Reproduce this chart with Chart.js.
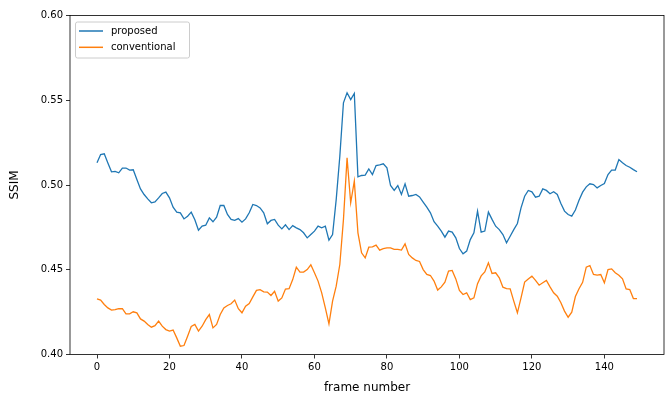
<!DOCTYPE html>
<html>
<head>
<meta charset="utf-8">
<script src="https://cdn.jsdelivr.net/npm/chart.js@4"></script>
<style>
html,body{margin:0;padding:0;background:#fff;}
#wrap{width:672px;height:398px;}
</style>
</head>
<body>
<div id="wrap"><canvas id="c" width="672" height="398"></canvas></div>
<script>
const seriesNames = ["proposed", "conventional"];
const xTickValues = [0, 20, 40, 60, 80, 100, 120, 140];
const yTickValues = [0.40, 0.45, 0.50, 0.55, 0.60];
const xLabel = "frame number";
const yLabel = "SSIM";

const proposed = [
0.5131,0.518,0.5184,0.513,0.5078,0.508,0.5072,0.510,0.510,0.5088,
0.509,0.5032,0.4977,0.4944,0.4918,0.4895,0.490,0.4924,0.495,0.4958,
0.4924,0.4869,0.484,0.4836,0.480,0.4816,0.484,0.4795,0.4733,0.4757,
0.4763,0.4806,0.4783,0.481,0.4879,0.4879,0.4826,0.4797,0.4791,0.4802,
0.4781,0.480,0.4836,0.4885,0.4879,0.4865,0.4836,0.4771,0.4791,0.4797,
0.4763,0.4741,0.4765,0.4737,0.476,0.4747,0.4737,0.4718,0.4688,0.4708,
0.4728,0.4757,0.4747,0.4757,0.4675,0.4708,0.4914,0.517,0.5485,0.5544,
0.5504,0.554,0.5048,0.5056,0.5058,0.5095,0.5062,0.5115,0.5119,0.5125,
0.5101,0.4997,0.4968,0.4997,0.4944,0.5007,0.4934,0.4938,0.4944,0.493,
0.4899,0.4869,0.4836,0.4783,0.4757,0.4728,0.4692,0.4728,0.4722,0.4688,
0.4625,0.4594,0.461,0.4678,0.4718,0.4846,0.4722,0.4728,0.484,0.4797,
0.4757,0.4737,0.4708,0.4659,0.4698,0.4737,0.4773,0.4865,0.4934,0.4968,
0.496,0.4928,0.4934,0.4977,0.4968,0.4948,0.496,0.4944,0.4891,0.4846,
0.4826,0.4816,0.4852,0.491,0.4958,0.4989,0.5007,0.5003,0.4983,0.4997,
0.5009,0.5062,0.5088,0.5088,0.515,0.5131,0.5115,0.5105,0.5091,0.5078
];

const conventional = [
0.4328,0.4321,0.4295,0.4275,0.4262,0.4265,0.4271,0.427,0.424,0.424,
0.4252,0.4246,0.421,0.4197,0.4177,0.4161,0.417,0.4197,0.4167,0.4147,
0.4138,0.4144,0.4098,0.4049,0.4053,0.4108,0.4165,0.4177,0.4138,0.4167,
0.4206,0.4236,0.4157,0.4177,0.4236,0.4275,0.4289,0.4299,0.4321,0.427,
0.4246,0.4285,0.4301,0.434,0.4378,0.4383,0.437,0.4368,0.4348,0.4373,
0.4315,0.4334,0.4386,0.4388,0.4442,0.4515,0.4486,0.4486,0.4501,0.4529,
0.4482,0.4433,0.4364,0.4275,0.4181,0.4315,0.4403,0.4531,0.4796,0.516,
0.4895,0.5023,0.4718,0.460,0.457,0.4633,0.4635,0.4645,0.4616,0.4625,
0.4629,0.4629,0.462,0.462,0.4616,0.4653,0.459,0.457,0.4555,0.4549,
0.4501,0.4472,0.4466,0.4433,0.438,0.4399,0.4427,0.4492,0.4496,0.4446,
0.4378,0.4354,0.4364,0.4324,0.4334,0.4418,0.4464,0.4487,0.4541,0.4478,
0.4482,0.4452,0.4397,0.4389,0.4387,0.4315,0.4246,0.4334,0.4427,0.4446,
0.4462,0.4437,0.4409,0.4423,0.4437,0.4399,0.4364,0.4344,0.4305,0.4256,
0.422,0.425,0.4342,0.4388,0.4426,0.4515,0.4525,0.4472,0.4468,0.4472,
0.4423,0.4501,0.4505,0.4482,0.4468,0.4446,0.4387,0.4383,0.433,0.433
];

const frames = proposed.map((_, i) => i);
const FONT = "'DejaVu Sans', sans-serif";

const frameAndLegend = {
  id: 'frameAndLegend',
  afterDraw(chart) {
    const ctx = chart.ctx;
    const a = chart.chartArea;
    ctx.save();
    ctx.strokeStyle = '#000';
    ctx.lineWidth = 0.8;
    ctx.strokeRect(a.left, a.top, a.right - a.left, a.bottom - a.top);
    // legend
    const lx = a.left + 5, ly = a.top + 6, lw = 114, lh = 36;
    ctx.fillStyle = 'rgba(255,255,255,0.8)';
    ctx.strokeStyle = '#cccccc';
    ctx.lineWidth = 1;
    ctx.beginPath();
    if (ctx.roundRect) ctx.roundRect(lx + 0.5, ly + 0.5, lw, lh, 2); else ctx.rect(lx + 0.5, ly + 0.5, lw, lh);
    ctx.fill();
    ctx.stroke();
    ctx.font = '10px ' + FONT;
    ctx.textBaseline = 'middle';
    chart.data.datasets.forEach((ds, i) => {
      const y = ly + 9.5 + i * 16.3;
      ctx.strokeStyle = ds.borderColor;
      ctx.lineWidth = 1.5;
      ctx.beginPath();
      ctx.moveTo(lx + 4, y);
      ctx.lineTo(lx + 28, y);
      ctx.stroke();
      ctx.fillStyle = '#000';
      ctx.fillText(ds.label, lx + 36, y);
    });
    ctx.restore();
  }
};

new Chart(document.getElementById('c'), {
  type: 'line',
  data: {
    labels: frames,
    datasets: [
      { label: seriesNames[0], data: proposed.map((v, i) => ({x: frames[i], y: v})), borderColor: '#1f77b4', backgroundColor: '#1f77b4', borderWidth: 1.3, pointRadius: 0, tension: 0 },
      { label: seriesNames[1], data: conventional.map((v, i) => ({x: frames[i], y: v})), borderColor: '#ff7f0e', backgroundColor: '#ff7f0e', borderWidth: 1.3, pointRadius: 0, tension: 0 }
    ]
  },
  options: {
    responsive: false,
    animation: false,
    layout: { padding: { top: 15.5, right: 8, left: 0, bottom: 0 } },
    plugins: { legend: { display: false }, tooltip: { enabled: false } },
    scales: {
      x: {
        type: 'linear',
        min: -7.45, max: 156.45,
        afterBuildTicks: s => { s.ticks = xTickValues.map(v => ({ value: v })); },
        afterFit: s => { s.height = 43.5; },
        grid: { display: true, drawOnChartArea: false, drawTicks: true, tickLength: 4, color: '#000', lineWidth: 0.8 },
        border: { display: false },
        ticks: { color: '#000', font: { family: FONT, size: 10 }, padding: 3, maxRotation: 0, callback: v => String(v) },
        title: { display: true, text: xLabel, color: '#000', font: { family: FONT, size: 12 }, padding: { top: 3, bottom: 3 } }
      },
      y: {
        min: 0.40, max: 0.60,
        afterBuildTicks: s => { s.ticks = yTickValues.map(v => ({ value: v })); },
        afterFit: s => { s.width = 70; },
        grid: { display: true, drawOnChartArea: false, drawTicks: true, tickLength: 4, color: '#000', lineWidth: 0.8 },
        border: { display: false },
        ticks: { color: '#000', font: { family: FONT, size: 10 }, padding: 3, callback: v => Number(v).toFixed(2) },
        title: { display: true, text: yLabel, color: '#000', font: { family: FONT, size: 12 }, padding: { top: 8, bottom: 6 } }
      }
    }
  },
  plugins: [frameAndLegend]
});
</script>
</body>
</html>
